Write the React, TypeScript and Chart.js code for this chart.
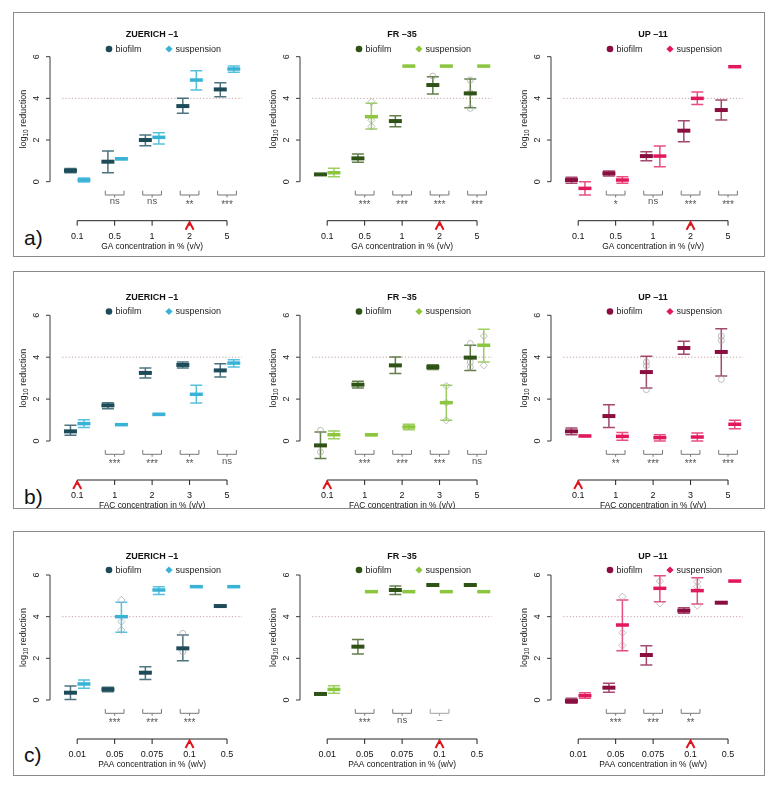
import React, { useEffect, useRef } from "react";
import { Chart, registerables } from "chart.js";

Chart.register(...registerables);

// ---- concentration tick labels ----
const gaLabels = ["0.1", "0.5", "1", "2", "5"];
const facLabels = ["0.1", "1", "2", "3", "5"];
const paaLabels = ["0.01", "0.05", "0.075", "0.1", "0.5"];

// ---- GA, log10 reduction: mean, lower and upper error limits ----
const gaZurBioMean = [0.53, 0.96, 2.0, 3.63, 4.43];
const gaZurBioLow = [0.43, 0.43, 1.73, 3.28, 4.08];
const gaZurBioHigh = [0.63, 1.47, 2.24, 4.0, 4.75];
const gaZurSusMean = [0.08, 1.1, 2.13, 4.88, 5.41];
const gaZurSusLow = [-0.02, 1.05, 1.81, 4.4, 5.25];
const gaZurSusHigh = [0.18, 1.15, 2.35, 5.33, 5.55];
const gaZurSig = ["", "ns", "ns", "**", "***"];

const gaFrBioMean = [0.35, 1.12, 2.91, 4.64, 4.24];
const gaFrBioLow = [0.32, 0.93, 2.64, 4.21, 3.55];
const gaFrBioHigh = [0.38, 1.33, 3.17, 5.04, 4.93];
const gaFrSusMean = [0.43, 3.12, 5.55, 5.55, 5.55];
const gaFrSusLow = [0.24, 2.53, 5.53, 5.53, 5.53];
const gaFrSusHigh = [0.64, 3.76, 5.57, 5.57, 5.57];
const gaFrSig = ["", "***", "***", "***", "***"];

const gaUpBioMean = [0.08, 0.4, 1.23, 2.45, 3.44];
const gaUpBioLow = [-0.08, 0.27, 1.0, 1.92, 2.96];
const gaUpBioHigh = [0.21, 0.51, 1.44, 2.93, 3.92];
const gaUpSusMean = [-0.32, 0.08, 1.23, 4.0, 5.52];
const gaUpSusLow = [-0.64, -0.08, 0.72, 3.71, 5.5];
const gaUpSusHigh = [0.0, 0.24, 1.71, 4.3, 5.54];
const gaUpSig = ["", "*", "ns", "***", "***"];

// ---- FAC ----
const facZurBioMean = [0.46, 1.7, 3.25, 3.63, 3.37];
const facZurBioLow = [0.27, 1.54, 3.01, 3.49, 3.06];
const facZurBioHigh = [0.75, 1.83, 3.49, 3.77, 3.69];
const facZurSusMean = [0.83, 0.78, 1.27, 2.23, 3.72];
const facZurSusLow = [0.64, 0.75, 1.23, 1.81, 3.53];
const facZurSusHigh = [1.02, 0.82, 1.31, 2.66, 3.88];
const facZurSig = ["", "***", "***", "**", "ns"];

const facFrBioMean = [-0.21, 2.69, 3.61, 3.53, 3.98];
const facFrBioLow = [-0.84, 2.53, 3.22, 3.41, 3.37];
const facFrBioHigh = [0.43, 2.85, 4.01, 3.64, 4.57];
const facFrSusMean = [0.3, 0.3, 0.67, 1.83, 4.57];
const facFrSusLow = [0.11, 0.25, 0.54, 0.99, 3.77];
const facFrSusHigh = [0.48, 0.35, 0.8, 2.66, 5.33];
const facFrSig = ["", "***", "***", "***", "ns"];

const facUpBioMean = [0.46, 1.19, 3.29, 4.44, 4.25];
const facUpBioLow = [0.3, 0.64, 2.53, 4.14, 3.1];
const facUpBioHigh = [0.62, 1.73, 4.04, 4.76, 5.36];
const facUpSusMean = [0.24, 0.22, 0.16, 0.19, 0.8];
const facUpSusLow = [0.22, 0.03, 0.0, 0.0, 0.59];
const facUpSusHigh = [0.26, 0.4, 0.3, 0.38, 0.99];
const facUpSig = ["", "**", "***", "***", "***"];

// ---- PAA ----
const paaZurBioMean = [0.35, 0.51, 1.31, 2.48, 4.51];
const paaZurBioLow = [0.03, 0.4, 0.99, 1.89, 4.49];
const paaZurBioHigh = [0.67, 0.61, 1.6, 3.12, 4.53];
const paaZurSusMean = [0.77, 4.0, 5.28, 5.44, 5.44];
const paaZurSusLow = [0.56, 3.25, 5.07, 5.42, 5.42];
const paaZurSusHigh = [0.96, 4.69, 5.44, 5.46, 5.46];
const paaZurSig = ["", "***", "***", "***", ""];

const paaFrBioMean = [0.29, 2.56, 5.28, 5.52, 5.52];
const paaFrBioLow = [0.26, 2.21, 5.07, 5.5, 5.5];
const paaFrBioHigh = [0.33, 2.91, 5.47, 5.54, 5.54];
const paaFrSusMean = [0.51, 5.2, 5.2, 5.2, 5.2];
const paaFrSusLow = [0.32, 5.18, 5.18, 5.18, 5.18];
const paaFrSusHigh = [0.69, 5.22, 5.22, 5.22, 5.22];
const paaFrSig = ["", "***", "ns", "–", ""];

const paaUpBioMean = [-0.05, 0.59, 2.16, 4.29, 4.67];
const paaUpBioLow = [-0.16, 0.37, 1.68, 4.16, 4.65];
const paaUpBioHigh = [0.08, 0.8, 2.61, 4.43, 4.69];
const paaUpSusMean = [0.21, 3.6, 5.36, 5.25, 5.71];
const paaUpSusLow = [0.08, 2.37, 4.72, 4.61, 5.69];
const paaUpSusHigh = [0.35, 4.8, 5.97, 5.87, 5.73];
const paaUpSig = ["", "***", "***", "**", ""];

// ---- single replicates that stand out: [category index, log10 reduction] ----
const gaFrBioReps = [[3, 5.07], [4, 4.88], [4, 4.27], [4, 3.52]];
const gaFrSusReps = [[1, 3.84], [1, 2.95], [1, 2.65]];
const facFrBioReps = [[0, 0.51], [0, -0.53], [4, 4.65], [4, 3.77], [4, 3.53]];
const facFrSusReps = [[3, 2.63], [3, 1.83], [3, 0.99], [4, 5.01], [4, 3.61]];
const facUpBioReps = [[2, 3.77], [2, 3.6], [2, 2.45], [4, 5.01], [4, 4.8], [4, 2.94]];
const paaZurBioReps = [[3, 3.2], [3, 2.32]];
const paaZurSusReps = [[1, 4.8], [1, 3.76], [1, 3.36]];
const paaUpSusReps = [[1, 4.96], [1, 3.23], [1, 2.62], [2, 5.71], [2, 4.64], [3, 5.68], [3, 5.44], [3, 4.53]];

const FONT = '"Liberation Sans", Arial, Helvetica, sans-serif';

// strain titles and colours (dark = biofilm, light = suspension)
const strains = [
  { name: "ZUERICH –1", bio: "#1d4b5a", bioErr: "rgba(45,90,104,0.85)", sus: "#38b3d6", susErr: "rgba(66,186,220,0.9)" },
  { name: "FR –35", bio: "#2f5216", bioErr: "rgba(70,104,44,0.85)", sus: "#8cc63e", susErr: "rgba(146,202,80,0.9)" },
  { name: "UP –11", bio: "#8a0f40", bioErr: "rgba(146,42,86,0.85)", sus: "#e2185c", susErr: "rgba(228,60,112,0.9)" },
];

type Series = { mean: number[]; low: number[]; high: number[]; reps: number[][] };
type Sub = { bio: Series; sus: Series; sig: string[] };
type Panel = {
  tag: string;
  top: number;
  height: number;
  tagY: number;
  titleY: number;
  legendY: number;
  y6: number;
  y0: number;
  labels: string[];
  xTitle: string;
  caret: number;
  subs: Sub[];
};

const s = (mean: number[], low: number[], high: number[], reps: number[][] = []): Series => ({ mean, low, high, reps });

const panels: Panel[] = [
  {
    tag: "a)", top: 12, height: 245, tagY: 238, titleY: 23, legendY: 37, y6: 44.7, y0: 169.7,
    labels: gaLabels, xTitle: "GA concentration in % (v/v)", caret: 3,
    subs: [
      { bio: s(gaZurBioMean, gaZurBioLow, gaZurBioHigh), sus: s(gaZurSusMean, gaZurSusLow, gaZurSusHigh), sig: gaZurSig },
      { bio: s(gaFrBioMean, gaFrBioLow, gaFrBioHigh, gaFrBioReps), sus: s(gaFrSusMean, gaFrSusLow, gaFrSusHigh, gaFrSusReps), sig: gaFrSig },
      { bio: s(gaUpBioMean, gaUpBioLow, gaUpBioHigh), sus: s(gaUpSusMean, gaUpSusLow, gaUpSusHigh), sig: gaUpSig },
    ],
  },
  {
    tag: "b)", top: 271, height: 238, tagY: 497, titleY: 26.5, legendY: 40.5, y6: 44.3, y0: 170,
    labels: facLabels, xTitle: "FAC concentration in % (v/v)", caret: 0,
    subs: [
      { bio: s(facZurBioMean, facZurBioLow, facZurBioHigh), sus: s(facZurSusMean, facZurSusLow, facZurSusHigh), sig: facZurSig },
      { bio: s(facFrBioMean, facFrBioLow, facFrBioHigh, facFrBioReps), sus: s(facFrSusMean, facFrSusLow, facFrSusHigh, facFrSusReps), sig: facFrSig },
      { bio: s(facUpBioMean, facUpBioLow, facUpBioHigh, facUpBioReps), sus: s(facUpSusMean, facUpSusLow, facUpSusHigh), sig: facUpSig },
    ],
  },
  {
    tag: "c)", top: 531, height: 245, tagY: 755, titleY: 25.5, legendY: 39, y6: 44, y0: 169,
    labels: paaLabels, xTitle: "PAA concentration in % (w/v)", caret: 3,
    subs: [
      { bio: s(paaZurBioMean, paaZurBioLow, paaZurBioHigh, paaZurBioReps), sus: s(paaZurSusMean, paaZurSusLow, paaZurSusHigh, paaZurSusReps), sig: paaZurSig },
      { bio: s(paaFrBioMean, paaFrBioLow, paaFrBioHigh), sus: s(paaFrSusMean, paaFrSusLow, paaFrSusHigh), sig: paaFrSig },
      { bio: s(paaUpBioMean, paaUpBioLow, paaUpBioHigh), sus: s(paaUpSusMean, paaUpSusLow, paaUpSusHigh, paaUpSusReps), sig: paaUpSig },
    ],
  },
];

// canvas geometry of one sub-plot
const CANVAS_W = 250;
const AXIS_X = 40; // y-axis line inside the canvas
const FIRST_TICK = 28; // first category, measured from the y-axis
const STEP = 38.6; // px between categories
const X_MIN = -0.7;
const X_MAX = 4.6;
const Y_MIN = -1.2;
const Y_MAX = 6.2;
const OFF = 0.18; // biofilm left / suspension right of each category
const subLefts = [10, 260, 511];

function makeDecor(panel: Panel, sub: Sub, strain: (typeof strains)[number]) {
  const errorBars = (chart: Chart, ser: Series, off: number, color: string) => {
    const ctx = chart.ctx;
    const xs = chart.scales.x;
    const ys = chart.scales.y;
    ctx.save();
    ctx.strokeStyle = color;
    ctx.lineWidth = 1.5;
    ser.mean.forEach((_, i) => {
      const x = xs.getPixelForValue(i + off);
      const yl = ys.getPixelForValue(ser.low[i]);
      const yh = ys.getPixelForValue(ser.high[i]);
      ctx.beginPath();
      ctx.moveTo(x, yl);
      ctx.lineTo(x, yh);
      ctx.moveTo(x - 6, yl);
      ctx.lineTo(x + 6, yl);
      ctx.moveTo(x - 6, yh);
      ctx.lineTo(x + 6, yh);
      ctx.stroke();
    });
    ctx.restore();
  };

  return {
    id: "decor",
    beforeDatasetsDraw(chart: Chart) {
      const ctx = chart.ctx;
      const xs = chart.scales.x;
      const ys = chart.scales.y;
      // dotted 4-log reference line
      const y4 = ys.getPixelForValue(4);
      ctx.save();
      ctx.strokeStyle = "#c9a2a2";
      ctx.lineWidth = 1;
      ctx.setLineDash([1.2, 2]);
      ctx.beginPath();
      ctx.moveTo(xs.getPixelForValue(-0.4), y4);
      ctx.lineTo(xs.getPixelForValue(4.4), y4);
      ctx.stroke();
      ctx.restore();
      errorBars(chart, sub.bio, -OFF, strain.bioErr);
      errorBars(chart, sub.sus, OFF, strain.susErr);
    },
    afterDraw(chart: Chart) {
      const ctx = chart.ctx;
      const xs = chart.scales.x;
      const ys = chart.scales.y;
      const y0 = ys.getPixelForValue(0);
      const y6 = ys.getPixelForValue(6);
      ctx.save();

      // y axis
      ctx.strokeStyle = "#3a3a3a";
      ctx.lineWidth = 1;
      ctx.beginPath();
      ctx.moveTo(AXIS_X, y0);
      ctx.lineTo(AXIS_X, y6);
      for (let v = 0; v <= 6; v += 2) {
        const y = ys.getPixelForValue(v);
        ctx.moveTo(AXIS_X - 4, y);
        ctx.lineTo(AXIS_X, y);
      }
      ctx.stroke();
      ctx.fillStyle = "#222";
      ctx.font = `9px ${FONT}`;
      ctx.textAlign = "center";
      ctx.textBaseline = "middle";
      for (let v = 0; v <= 6; v += 2) {
        const y = ys.getPixelForValue(v);
        ctx.save();
        ctx.translate(AXIS_X - 13, y);
        ctx.rotate(-Math.PI / 2);
        ctx.fillText(String(v), 0, 0);
        ctx.restore();
      }

      // y title: log10 reduction
      {
        const yc = ys.getPixelForValue(3);
        ctx.save();
        ctx.translate(AXIS_X - 27, yc);
        ctx.rotate(-Math.PI / 2);
        ctx.textAlign = "left";
        ctx.textBaseline = "alphabetic";
        ctx.font = `9px ${FONT}`;
        const wLog = ctx.measureText("log").width;
        const wRed = ctx.measureText(" reduction").width;
        ctx.font = `6.5px ${FONT}`;
        const wSub = ctx.measureText("10").width;
        const total = wLog + wSub + wRed;
        let x = -total / 2;
        const base = 3;
        ctx.font = `9px ${FONT}`;
        ctx.fillText("log", x, base);
        x += wLog;
        ctx.font = `6.5px ${FONT}`;
        ctx.fillText("10", x, base + 2);
        x += wSub;
        ctx.font = `9px ${FONT}`;
        ctx.fillText(" reduction", x, base);
        ctx.restore();
      }

      // strain title
      const xMid = xs.getPixelForValue(2);
      ctx.fillStyle = "#111";
      ctx.font = `bold 9px ${FONT}`;
      ctx.textAlign = "center";
      ctx.textBaseline = "middle";
      ctx.fillText(strain.name, xMid, panel.titleY);

      // legend
      const ly = panel.legendY;
      ctx.fillStyle = strain.bio;
      ctx.beginPath();
      ctx.arc(AXIS_X + 59, ly, 3.3, 0, Math.PI * 2);
      ctx.fill();
      ctx.fillStyle = strain.sus;
      ctx.beginPath();
      ctx.moveTo(AXIS_X + 119, ly - 3.6);
      ctx.lineTo(AXIS_X + 122.6, ly);
      ctx.lineTo(AXIS_X + 119, ly + 3.6);
      ctx.lineTo(AXIS_X + 115.4, ly);
      ctx.closePath();
      ctx.fill();
      ctx.fillStyle = "#222";
      ctx.font = `9px ${FONT}`;
      ctx.textAlign = "left";
      ctx.fillText("biofilm", AXIS_X + 65.5, ly + 0.5);
      ctx.fillText("suspension", AXIS_X + 125.5, ly + 0.5);

      // significance brackets
      sub.sig.forEach((lab, i) => {
        if (!lab) return;
        const xc = xs.getPixelForValue(i);
        const half = 0.25 * (xs.getPixelForValue(1) - xs.getPixelForValue(0));
        const yb = y0 + 13.3;
        ctx.strokeStyle = lab === "–" ? "#a0a0a0" : "#777";
        ctx.lineWidth = 1;
        ctx.beginPath();
        ctx.moveTo(xc - half, yb - 4.3);
        ctx.lineTo(xc - half, yb);
        ctx.lineTo(xc + half, yb);
        ctx.lineTo(xc + half, yb - 4.3);
        ctx.moveTo(xc, yb);
        ctx.lineTo(xc, yb + 2.5);
        ctx.stroke();
        ctx.fillStyle = "#555";
        ctx.textAlign = "center";
        ctx.textBaseline = "alphabetic";
        if (lab.includes("*")) {
          ctx.font = `10px ${FONT}`;
          ctx.fillText(lab, xc, y0 + 20.6 + 5.7);
        } else {
          ctx.font = `9.5px ${FONT}`;
          ctx.fillText(lab, xc, y0 + 20 + 2.6);
        }
      });

      // concentration axis
      const ya = y0 + 39;
      const xFirst = xs.getPixelForValue(0);
      const xLast = xs.getPixelForValue(4);
      ctx.strokeStyle = "#222";
      ctx.lineWidth = 1;
      ctx.beginPath();
      ctx.moveTo(xFirst, ya);
      ctx.lineTo(xLast, ya);
      panel.labels.forEach((_, i) => {
        const x = xs.getPixelForValue(i);
        ctx.moveTo(x, ya);
        ctx.lineTo(x, ya + 5);
      });
      ctx.stroke();
      ctx.fillStyle = "#111";
      ctx.font = `9px ${FONT}`;
      ctx.textAlign = "center";
      ctx.textBaseline = "middle";
      panel.labels.forEach((lab, i) => {
        ctx.fillText(lab, xs.getPixelForValue(i), y0 + 55);
      });
      ctx.font = `8.4px ${FONT}`;
      ctx.fillText(panel.xTitle, xs.getPixelForValue(2), y0 + 65);

      // red marker at the reference concentration
      const xc = xs.getPixelForValue(panel.caret);
      ctx.strokeStyle = "#e3131b";
      ctx.lineWidth = 2;
      ctx.lineJoin = "miter";
      ctx.beginPath();
      ctx.moveTo(xc - 4, ya + 9);
      ctx.lineTo(xc, ya + 1.5);
      ctx.lineTo(xc + 4, ya + 9);
      ctx.stroke();

      ctx.restore();
    },
  };
}

function Subplot({ panel, sub, strainIdx }: { panel: Panel; sub: Sub; strainIdx: number }) {
  const ref = useRef<HTMLCanvasElement>(null);
  useEffect(() => {
    const strain = strains[strainIdx];
    const H = panel.height;
    const unit = (panel.y0 - panel.y6) / 6;
    const top = panel.y6 - (Y_MAX - 6) * unit;
    const bottom = panel.y0 + (0 - Y_MIN) * unit;
    const left = AXIS_X + FIRST_TICK + X_MIN * STEP;
    const right = AXIS_X + FIRST_TICK + X_MAX * STEP;
    const meanSet = (ser: Series, off: number, color: string, w: number, label: string) => ({
      label,
      data: ser.mean.map((v, i) => ({ x: i + off, y: v })),
      showLine: false,
      pointStyle: "line" as const,
      pointRadius: 6.5,
      pointHoverRadius: 6.5,
      pointBorderWidth: w,
      pointBorderColor: color,
      pointBackgroundColor: color,
      clip: false as const,
    });
    const repSet = (ser: Series, off: number, style: "circle" | "rectRot", label: string) => ({
      label,
      data: ser.reps.map(([i, v]) => ({ x: i + off, y: v })),
      showLine: false,
      pointStyle: style,
      pointRadius: style === "circle" ? 3 : 3.6,
      pointHoverRadius: 3,
      pointBorderWidth: 1,
      pointBorderColor: "rgba(170,170,170,0.75)",
      pointBackgroundColor: "rgba(255,255,255,0)",
      clip: false as const,
    });
    const chart = new Chart(ref.current!, {
      type: "scatter",
      data: {
        datasets: [
          meanSet(sub.bio, -OFF, strain.bio, 4, "biofilm"),
          meanSet(sub.sus, OFF, strain.sus, 3.5, "suspension"),
          repSet(sub.bio, -OFF, "circle", "biofilm replicates"),
          repSet(sub.sus, OFF, "rectRot", "suspension replicates"),
        ],
      },
      options: {
        responsive: false,
        animation: false,
        devicePixelRatio: 1,
        events: [],
        layout: {
          padding: { left, right: CANVAS_W - right, top, bottom: H - bottom },
        },
        scales: {
          x: { type: "linear", min: X_MIN, max: X_MAX, display: false },
          y: { type: "linear", min: Y_MIN, max: Y_MAX, display: false },
        },
        plugins: { legend: { display: false }, tooltip: { enabled: false }, title: { display: false } },
      },
      plugins: [makeDecor(panel, sub, strain)],
    });
    return () => chart.destroy();
  }, [panel, sub, strainIdx]);
  return (
    <canvas
      ref={ref}
      width={CANVAS_W}
      height={panel.height}
      style={{ position: "absolute", left: subLefts[strainIdx], top: panel.top, width: CANVAS_W, height: panel.height }}
    />
  );
}

export default function App() {
  return (
    <div style={{ position: "absolute", left: 0, top: 0, width: 778, height: 790, background: "#fff", fontFamily: FONT }}>
      {panels.map((p, pi) => (
        <React.Fragment key={pi}>
          <div
            style={{
              position: "absolute",
              left: 13,
              top: p.top,
              width: 752,
              height: p.height,
              border: "1.5px solid #8a8a8a",
              boxSizing: "border-box",
            }}
          />
          <div
            style={{
              position: "absolute",
              left: 24,
              top: p.tagY - 12,
              fontSize: 21,
              lineHeight: "24px",
              color: "#111",
              fontFamily: FONT,
            }}
          >
            {p.tag}
          </div>
          {p.subs.map((sub, si) => (
            <Subplot key={si} panel={p} sub={sub} strainIdx={si} />
          ))}
        </React.Fragment>
      ))}
    </div>
  );
}
